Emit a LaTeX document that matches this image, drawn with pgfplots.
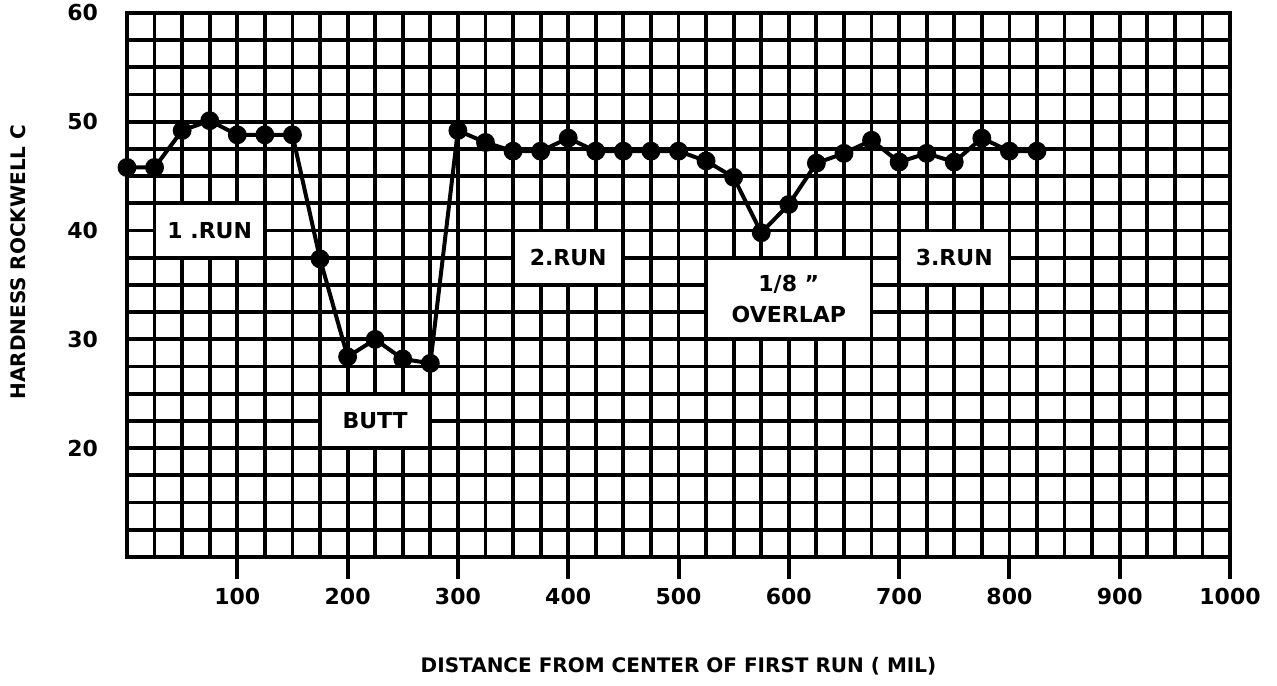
\documentclass[border=0pt]{standalone}
\usepackage{fontspec}
\setmainfont{DejaVu Sans}
\usepackage{pgfplots}
\pgfplotsset{compat=1.18}
\begin{document}
\begin{tikzpicture}
\begin{axis}[
 name=ax, clip=false,
 scale only axis, width=551.5pt, height=272pt,
 xmin=0, xmax=1000, ymin=10, ymax=60,
 xtick={100,200,...,1000},
 ytick={20,30,...,60},
 minor xtick={0,25,...,1000},
 minor ytick={10,12.5,...,60},
 grid=both,
 major grid style={line width=1.9pt, black},
 minor grid style={line width=1.9pt, black},
 axis line style={line width=2.2pt},
 major tick length=0pt,
 minor tick length=0pt,
 /pgf/number format/assume math mode=true,
 /pgf/number format/1000 sep={},
 ticklabel style={font=\fontsize{11}{13}\selectfont\bfseries},
 xticklabel style={yshift=-12pt},
 yticklabel style={xshift=-11pt},
 xlabel={DISTANCE FROM CENTER OF FIRST RUN ( MIL)},
 ylabel={HARDNESS ROCKWELL C},
 label style={font=\fontsize{10}{12}\selectfont\bfseries},
 xlabel style={at={(axis description cs:0.5,-0.2)}, anchor=center},
 ylabel style={at={(axis description cs:-0.099,0.542)}, anchor=center},
]
\pgfplotsinvokeforeach{100,200,300,400,500,600,700,800,900,1000}{
  \draw[line width=2pt, black] (axis cs:#1,10) -- ([yshift=-11pt]axis cs:#1,10);
}
\fill[white] ([xshift=0.95pt,yshift=0.95pt]axis cs:25,37.5) rectangle ([xshift=-0.95pt,yshift=-0.95pt]axis cs:125,42.5);
\fill[white] ([xshift=0.95pt,yshift=0.95pt]axis cs:175,20) rectangle ([xshift=-0.95pt,yshift=-0.95pt]axis cs:275,25);
\fill[white] ([xshift=0.95pt,yshift=0.95pt]axis cs:350,35) rectangle ([xshift=-0.95pt,yshift=-0.95pt]axis cs:450,40);
\fill[white] ([xshift=0.95pt,yshift=0.95pt]axis cs:525,30) rectangle ([xshift=-0.95pt,yshift=-0.95pt]axis cs:675,37.5);
\fill[white] ([xshift=0.95pt,yshift=0.95pt]axis cs:700,35) rectangle ([xshift=-0.95pt,yshift=-0.95pt]axis cs:800,40);
\node[font=\fontsize{11}{13}\selectfont\bfseries] at (axis cs:75,40) {1 .RUN};
\node[font=\fontsize{11}{13}\selectfont\bfseries] at (axis cs:225,22.5) {BUTT};
\node[font=\fontsize{11}{13}\selectfont\bfseries] at (axis cs:400,37.5) {2.RUN};
\node[font=\fontsize{11}{13}\selectfont\bfseries] at (axis cs:600,35.1) {1/8 ''};
\node[font=\fontsize{11}{13}\selectfont\bfseries] at (axis cs:600,32.3) {OVERLAP};
\node[font=\fontsize{11}{13}\selectfont\bfseries] at (axis cs:750,37.5) {3.RUN};
\addplot[black, line width=2pt, mark=*, mark size=3.7pt] coordinates {
(0,45.8) (25,45.8) (50,49.2) (75,50.1) (100,48.8) (125,48.8) (150,48.8)
(175,37.4) (200,28.4) (225,30.0) (250,28.2) (275,27.8) (300,49.2) (325,48.1)
(350,47.3) (375,47.3) (400,48.5) (425,47.3) (450,47.3) (475,47.3) (500,47.3)
(525,46.4) (550,44.9) (575,39.8) (600,42.4) (625,46.2) (650,47.1) (675,48.3)
(700,46.3) (725,47.1) (750,46.3) (775,48.5) (800,47.3) (825,47.3)
};
\end{axis}
\pgfresetboundingbox
\path ([xshift=-63.5pt,yshift=-64.5pt]ax.south west) rectangle ([xshift=23.5pt,yshift=6.5pt]ax.north east);
\end{tikzpicture}
\end{document}
